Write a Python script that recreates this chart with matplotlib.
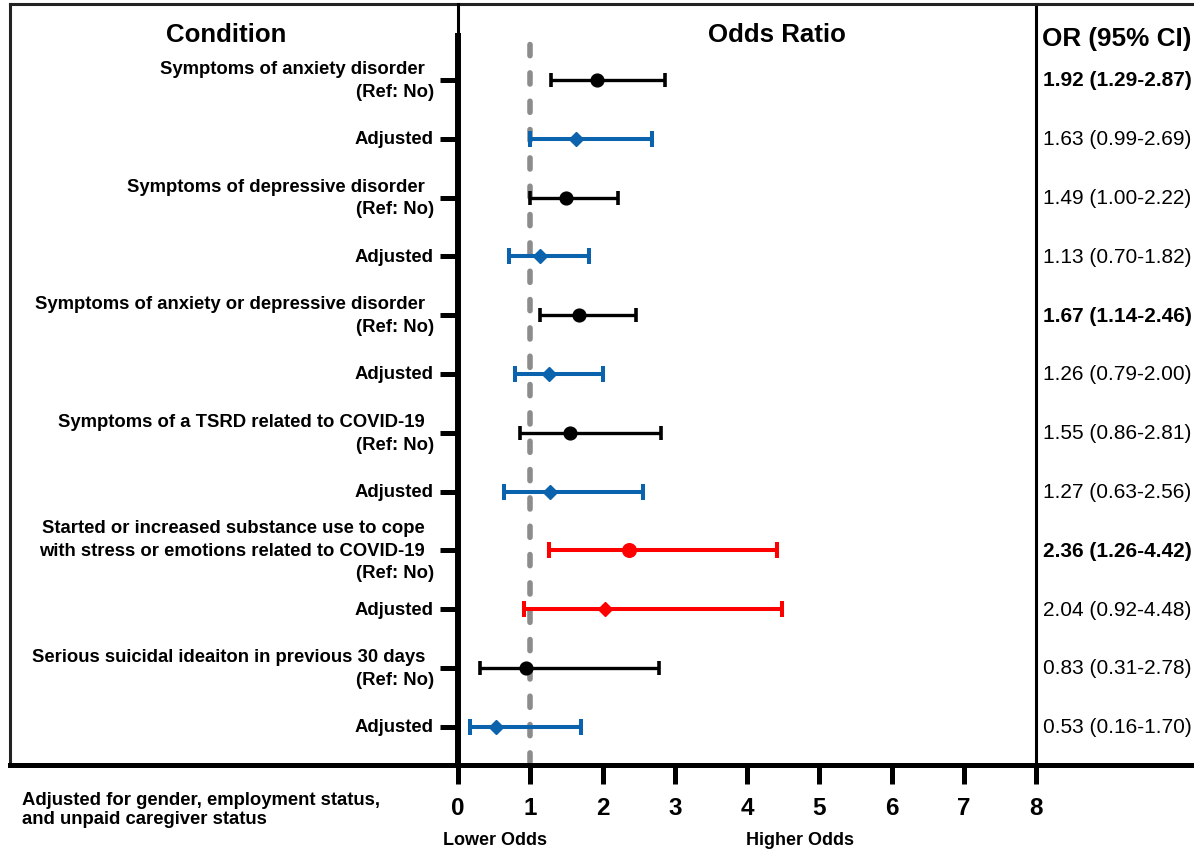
import matplotlib
matplotlib.use('Agg')
import matplotlib.pyplot as plt
from matplotlib.lines import Line2D
import matplotlib.transforms as mtransforms

plt.rcParams['font.family'] = ['Liberation Sans', 'DejaVu Sans']

# ---------------- data ----------------
row_labels = [
    ["Symptoms of anxiety disorder", "(Ref: No)"],
    ["Adjusted"],
    ["Symptoms of depressive disorder", "(Ref: No)"],
    ["Adjusted"],
    ["Symptoms of anxiety or depressive disorder", "(Ref: No)"],
    ["Adjusted"],
    ["Symptoms of a TSRD related to COVID-19", "(Ref: No)"],
    ["Adjusted"],
    ["Started or increased substance use to cope",
     "with stress or emotions related to COVID-19", "(Ref: No)"],
    ["Adjusted"],
    ["Serious suicidal ideaiton in previous 30 days", "(Ref: No)"],
    ["Adjusted"],
]
or_point = [1.92, 1.63, 1.49, 1.13, 1.67, 1.26, 1.55, 1.27, 2.36, 2.04, 0.94, 0.53]
ci_low = [1.29, 0.99, 1.00, 0.70, 1.14, 0.79, 0.86, 0.63, 1.26, 0.92, 0.31, 0.16]
ci_high = [2.87, 2.69, 2.22, 1.82, 2.46, 2.00, 2.81, 2.56, 4.42, 4.48, 2.78, 1.70]
or_text = ["1.92 (1.29-2.87)", "1.63 (0.99-2.69)", "1.49 (1.00-2.22)", "1.13 (0.70-1.82)",
           "1.67 (1.14-2.46)", "1.26 (0.79-2.00)", "1.55 (0.86-2.81)", "1.27 (0.63-2.56)",
           "2.36 (1.26-4.42)", "2.04 (0.92-4.48)", "0.83 (0.31-2.78)", "0.53 (0.16-1.70)"]
or_bold = [True, False, False, False, True, False, False, False, True, False, False, False]
row_kind = ["crude", "adj", "crude", "adj", "crude", "adj", "crude", "adj",
            "crude_sig", "adj_sig", "crude", "adj"]
x_ticks = [0, 1, 2, 3, 4, 5, 6, 7, 8]

# ---------------- styles ----------------
BLUE = '#0b62ad'
RED = '#ff0000'
styles = {
    "crude": dict(color='black', marker='o', ms=9.2, lw=2.4, cap=5.0, capw=2.6),
    "adj": dict(color=BLUE, marker='D', ms=7.5, lw=2.9, cap=5.6, capw=2.9),
    "crude_sig": dict(color=RED, marker='o', ms=9.8, lw=2.9, cap=5.6, capw=2.9),
    "adj_sig": dict(color=RED, marker='D', ms=7.5, lw=2.9, cap=5.6, capw=2.9),
}

W, H = 1194, 854
fig = plt.figure(figsize=(W / 100, H / 100), dpi=100)

def fx(px):
    return px / W

def fy(py):
    return 1 - py / H

ax_left, ax_right, ax_top, ax_bot = 458, 1036, 5, 766
ax = fig.add_axes([fx(ax_left), fy(ax_bot), fx(ax_right - ax_left), (ax_bot - ax_top) / H])

row_px0, row_step = 81, 58.8
n = len(or_point)
ax.set_xlim(0, 8)
ax.set_ylim((ax_bot - row_px0) / row_step, (ax_top - row_px0) / row_step)

for i in range(n):
    st = styles[row_kind[i]]
    ax.errorbar(or_point[i], i,
                xerr=[[or_point[i] - ci_low[i]], [ci_high[i] - or_point[i]]],
                fmt=st['marker'], color=st['color'], ms=st['ms'],
                elinewidth=st['lw'], capsize=st['cap'], capthick=st['capw'], zorder=3)

# reference dashed line at OR = 1
ax.axvline(1, ymin=0.001, ymax=1 - (38 - ax_top) / (ax_bot - ax_top),
           color='#8c8c8c', lw=4.0, dashes=(2.0, 3.1), dash_capstyle='round',
           solid_capstyle='round', zorder=2)

# spines
for s in ['top', 'bottom']:
    ax.spines[s].set_visible(False)
ax.spines['left'].set_linewidth(4.3)
ax.spines['left'].set_bounds((37 - row_px0) / row_step, (ax_bot - row_px0) / row_step)
ax.spines['right'].set_linewidth(2.2)

ax.set_yticks(range(n))
ax.set_yticklabels([])
ax.tick_params(axis='y', length=13, width=3.6, direction='out')
ax.set_xticks(x_ticks)
ax.set_xticklabels([str(t) for t in x_ticks], fontsize=17.5, fontweight='bold')
ax.tick_params(axis='x', length=13.5, width=3.6, direction='out', pad=8.5)

# row labels
line_gap = 22.5
for i, lines in enumerate(row_labels):
    m = len(lines)
    for k, line in enumerate(lines):
        dy = -(k - (m - 1) / 2) * line_gap
        last = (k == m - 1)
        dx = -24 if last else -33
        ax.annotate(line, xy=(0, i), xycoords='data', xytext=(dx, dy),
                    textcoords='offset pixels', ha='right', va='center',
                    fontsize=13.3, fontweight='bold', annotation_clip=False)

# OR text column
for i in range(n):
    ax.annotate(or_text[i], xy=(8, i), xycoords='data', xytext=(7, 0),
                textcoords='offset pixels', ha='left', va='center', fontsize=15,
                fontweight='bold' if or_bold[i] else 'normal', annotation_clip=False)

# headers
fig.text(fx(226), fy(35), "Condition", ha='center', va='center', fontsize=18.6, fontweight='bold')
fig.text(fx(777), fy(35), "Odds Ratio", ha='center', va='center', fontsize=18.6, fontweight='bold')
fig.text(fx(1042), fy(39), "OR (95% CI)", ha='left', va='center', fontsize=18.8, fontweight='bold')

# bottom texts
fig.text(fx(22), fy(810), "Adjusted for gender, employment status,\nand unpaid caregiver status",
         ha='left', va='center', fontsize=13.3, fontweight='bold', linespacing=1.1)
trans = mtransforms.blended_transform_factory(ax.transData, fig.transFigure)
ax.text(0.51, fy(841), "Lower Odds", transform=trans, ha='center', va='center',
        fontsize=13, fontweight='bold', clip_on=False)
ax.text(4.73, fy(841), "Higher Odds", transform=trans, ha='center', va='center',
        fontsize=13, fontweight='bold', clip_on=False)

# outer frame lines
frame = [
    ([fx(10), fx(1194)], [fy(5), fy(5)], 2.2, '#222222'),
    ([fx(10), fx(10)], [fy(5), fy(766)], 2.2, '#222222'),
    ([fx(10), fx(1194)], [fy(766), fy(766)], 3.6, 'black'),
    ([fx(458), fx(458)], [fy(5), fy(40)], 2.2, 'black'),
]
for xs, ys, lw, c in frame:
    fig.add_artist(Line2D(xs, ys, transform=fig.transFigure, lw=lw, color=c))

fig.savefig('out.png', dpi=100)
